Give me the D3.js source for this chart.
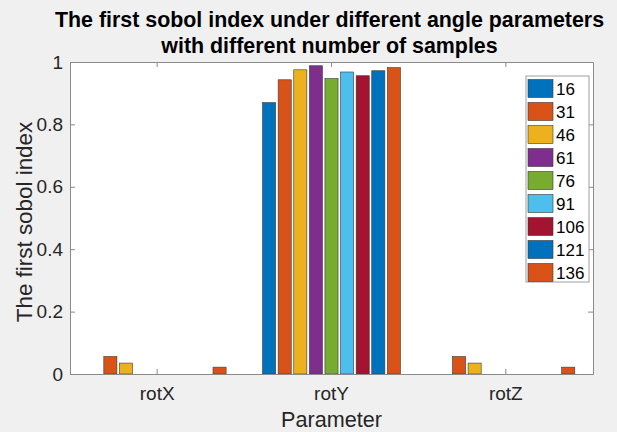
<!DOCTYPE html>
<html>
<head>
<meta charset="utf-8">
<script src="https://cdn.jsdelivr.net/npm/d3@7"></script>
<style>
  body { margin: 0; background: #f0f0f0; }
  text { font-family: 'Liberation Sans', Arial, sans-serif; }
</style>
</head>
<body>
<div id="chart"></div>
<script>
// data
const params = ['rotX', 'rotY', 'rotZ']
const samples = ['16', '31', '46', '61', '76', '91', '106', '121', '136']
const rotX = [0, 0.056, 0.035, 0, 0, 0, 0, 0, 0.022]
const rotY = [0.870, 0.943, 0.975, 0.988, 0.947, 0.968, 0.956, 0.972, 0.982]
const rotZ = [0, 0.056, 0.035, 0, 0, 0, 0, 0, 0.022]
const yTicks = [0, 0.2, 0.4, 0.6, 0.8, 1]

const colors = ['#0072BD', '#D95319', '#EDB120', '#7E2F8E', '#77AC30', '#4DBEEE', '#A2142F', '#0072BD', '#D95319']

const width = 617
const height = 432
const margin = { top: 62, left: 70, right: 24, bottom: 58 }
const plotW = width - margin.left - margin.right
const plotH = height - margin.top - margin.bottom

const table = params.map((p, i) => ({
  key: p,
  values: [rotX, rotY, rotZ][i].map((v, j) => ({ sample: samples[j], value: v, idx: j }))
}))

const svg = d3.select('#chart')
  .append('svg')
  .attr('width', width)
  .attr('height', height)

// title
svg.append('text')
  .attr('x', margin.left + plotW / 2 - 2)
  .attr('y', 27)
  .attr('text-anchor', 'middle')
  .attr('font-size', 21.4)
  .attr('font-weight', 'bold')
  .attr('fill', '#000')
  .text('The first sobol index under different angle parameters')

svg.append('text')
  .attr('x', margin.left + plotW / 2 - 2)
  .attr('y', 53)
  .attr('text-anchor', 'middle')
  .attr('font-size', 21.4)
  .attr('font-weight', 'bold')
  .attr('fill', '#000')
  .text('with different number of samples')

const g = svg.append('g')
  .attr('transform', 'translate(' + margin.left + ',' + margin.top + ')')

g.append('rect')
  .attr('width', plotW)
  .attr('height', plotH)
  .attr('fill', '#fff')

const xScale = d3.scaleBand()
  .domain(params)
  .range([0, plotW])

const groupW = 140.4
const xInner = d3.scaleBand()
  .domain(samples)
  .range([-groupW / 2, groupW / 2])
  .paddingInner(0.16)
  .paddingOuter(0.08)

const yScale = d3.scaleLinear()
  .domain([0, 1])
  .range([plotH, 0])

// bars
g.selectAll('.group')
  .data(table)
  .enter()
  .append('g')
  .attr('class', 'group')
  .attr('transform', d => 'translate(' + (xScale(d.key) + xScale.bandwidth() / 2) + ',0)')
  .selectAll('rect')
  .data(d => d.values.filter(v => v.value > 0))
  .enter()
  .append('rect')
  .attr('x', d => xInner(d.sample))
  .attr('width', xInner.bandwidth())
  .attr('y', d => yScale(d.value))
  .attr('height', d => plotH - yScale(d.value))
  .attr('fill', d => colors[d.idx])
  .attr('stroke', '#3a3a3a')
  .attr('stroke-width', 0.6)

// axes
const axisColor = '#8a8a8a'
const labelColor = '#262626'

const xAxis = d3.axisBottom(xScale).tickSizeInner(-5).tickSizeOuter(0).tickPadding(13)
g.append('g')
  .attr('class', 'axis x-axis')
  .attr('transform', 'translate(0,' + plotH + ')')
  .call(xAxis)

const xTop = d3.axisTop(xScale).tickSizeInner(-5).tickSizeOuter(0).tickFormat('')
g.append('g')
  .attr('class', 'axis x-top')
  .call(xTop)

const yAxis = d3.axisLeft(yScale).tickValues(yTicks).tickFormat(d3.format('~g')).tickSizeInner(-5).tickSizeOuter(0).tickPadding(7)
g.append('g')
  .attr('class', 'axis y-axis')
  .call(yAxis)

const yRight = d3.axisRight(yScale).tickValues(yTicks).tickFormat('').tickSizeInner(-5).tickSizeOuter(0)
g.append('g')
  .attr('class', 'axis y-right')
  .attr('transform', 'translate(' + plotW + ',0)')
  .call(yRight)

g.selectAll('.axis path').attr('stroke', axisColor)
g.selectAll('.axis line').attr('stroke', axisColor)
g.selectAll('.axis text')
  .attr('fill', labelColor)
  .attr('font-size', 19)
  .attr('font-family', "'Liberation Sans', Arial, sans-serif")

// axis titles
g.append('text')
  .attr('x', plotW / 2)
  .attr('y', plotH + 53)
  .attr('text-anchor', 'middle')
  .attr('font-size', 21.6)
  .attr('fill', labelColor)
  .text('Parameter')

g.append('text')
  .attr('transform', 'translate(' + (32 - margin.left) + ',' + (plotH / 2 + 4) + ') rotate(-90)')
  .attr('text-anchor', 'middle')
  .attr('font-size', 22.4)
  .attr('fill', labelColor)
  .text('The first sobol index')

// legend
const legend = svg.append('g')
  .attr('transform', 'translate(526,76)')

legend.append('rect')
  .attr('width', 63)
  .attr('height', 206)
  .attr('fill', '#fff')
  .attr('stroke', '#a0a0a0')
  .attr('stroke-width', 1)

const item = legend.selectAll('.item')
  .data(samples)
  .enter()
  .append('g')
  .attr('class', 'item')
  .attr('transform', (d, i) => 'translate(2,' + (3.5 + i * 23) + ')')

item.append('rect')
  .attr('width', 25)
  .attr('height', 18)
  .attr('fill', (d, i) => colors[i])
  .attr('stroke', '#3a3a3a')
  .attr('stroke-width', 0.6)

item.append('text')
  .attr('x', 28)
  .attr('y', 15.5)
  .attr('font-size', 17)
  .attr('fill', '#000')
  .text(d => d)
</script>
</body>
</html>
